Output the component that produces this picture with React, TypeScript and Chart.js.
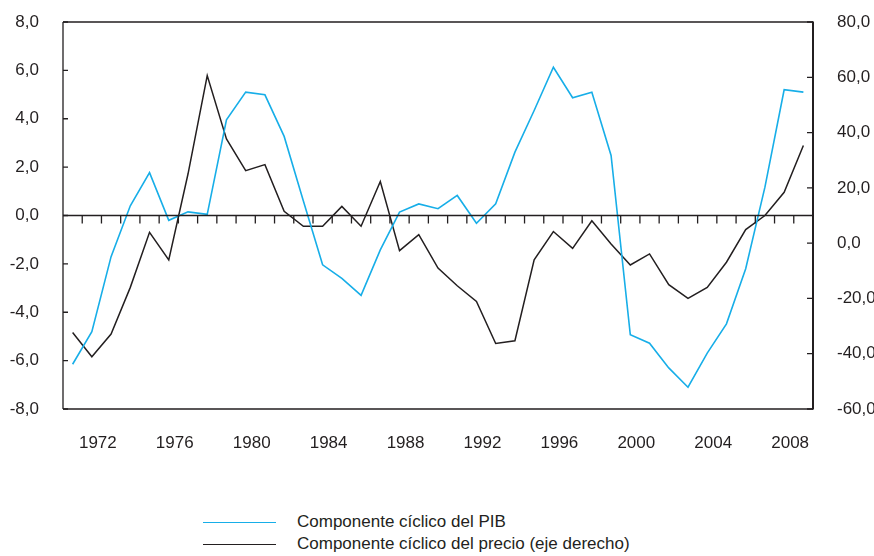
import React, { useEffect, useRef } from 'react';
import { Chart, registerables } from 'chart.js';

Chart.register(...registerables);

const years = [
  '1971', '1972', '1973', '1974', '1975', '1976', '1977', '1978', '1979', '1980',
  '1981', '1982', '1983', '1984', '1985', '1986', '1987', '1988', '1989', '1990',
  '1991', '1992', '1993', '1994', '1995', '1996', '1997', '1998', '1999', '2000',
  '2001', '2002', '2003', '2004', '2005', '2006', '2007', '2008', '2009',
];

// Componente cíclico del PIB (left axis)
const pibCycle = [
  -6.15, -4.8, -1.7, 0.4, 1.77, -0.2, 0.15, 0.05, 3.96, 5.1,
  4.99, 3.27, 0.6, -2.04, -2.6, -3.3, -1.42, 0.14, 0.48, 0.28,
  0.83, -0.32, 0.48, 2.62, 4.34, 6.13, 4.87, 5.1, 2.48, -4.93,
  -5.28, -6.3, -7.1, -5.69, -4.48, -2.2, 1.17, 5.2, 5.1,
];

// Componente cíclico del precio (right axis)
const priceCycle = [
  -32.3, -41.1, -32.9, -16.0, 3.9, -6.1, 25.0, 60.6, 37.7, 26.2,
  28.4, 11.5, 6.1, 6.1, 13.3, 6.1, 22.3, -2.7, 3.1, -9.0,
  -15.4, -21.1, -36.3, -35.3, -6.0, 4.2, -1.9, 8.1, -0.3, -7.9,
  -3.9, -15.0, -20.0, -16.0, -6.9, 4.9, 10.0, 18.4, 35.3,
];

const leftTicks = [-8, -6, -4, -2, 0, 2, 4, 6, 8];
const rightTicks = [-60, -40, -20, 0, 20, 40, 60, 80];
const xLabelYears = ['1972', '1976', '1980', '1984', '1988', '1992', '1996', '2000', '2004', '2008'];
const seriesNames = ['Componente cíclico del PIB', 'Componente cíclico del precio (eje derecho)'];

const BLUE = '#17aee8';
const DARK = '#231f20';
const FONT = "'Liberation Sans', Arial, sans-serif";
const FSIZE = 17;

const fmt = (v: number) => v.toFixed(1).replace('.', ',');

const framePlugin = {
  id: 'framePlugin',
  afterDatasetsDraw(chart: any) {
    const { ctx, chartArea } = chart;
    const { left, right, top, bottom } = chartArea;
    const x = chart.scales.x;
    const yL = chart.scales.y;
    const yR = chart.scales.y1;
    ctx.save();
    ctx.strokeStyle = DARK;
    // frame
    ctx.lineWidth = 1.3;
    ctx.beginPath();
    ctx.moveTo(left, top);
    ctx.lineTo(right, top);
    ctx.moveTo(left, bottom);
    ctx.lineTo(right, bottom);
    ctx.moveTo(left, top);
    ctx.lineTo(left, bottom);
    ctx.stroke();
    ctx.lineWidth = 2;
    ctx.beginPath();
    ctx.moveTo(right, top - 0.6);
    ctx.lineTo(right, bottom + 0.6);
    ctx.stroke();
    // inner ticks
    ctx.lineWidth = 1.3;
    ctx.beginPath();
    leftTicks.forEach((v) => {
      const py = yL.getPixelForValue(v);
      ctx.moveTo(left, py);
      ctx.lineTo(left + 5, py);
    });
    rightTicks.forEach((v) => {
      const py = yR.getPixelForValue(v);
      ctx.moveTo(right, py);
      ctx.lineTo(right - 6, py);
    });
    ctx.stroke();
    // zero line with category ticks
    const zy = yL.getPixelForValue(0);
    ctx.lineWidth = 1.3;
    ctx.beginPath();
    ctx.moveTo(left, zy);
    ctx.lineTo(right, zy);
    const step = x.getPixelForValue(1) - x.getPixelForValue(0);
    for (let i = 1; i < years.length; i++) {
      const px = x.getPixelForValue(i) - step / 2;
      ctx.moveTo(px, zy);
      ctx.lineTo(px, zy + 8);
    }
    ctx.stroke();
    ctx.restore();
  },
};

export default function App() {
  const canvasRef = useRef<HTMLCanvasElement>(null);

  useEffect(() => {
    if (!canvasRef.current) return;
    const chart = new Chart(canvasRef.current, {
      type: 'line',
      data: {
        labels: years,
        datasets: [
          {
            label: seriesNames[0],
            data: pibCycle,
            borderColor: BLUE,
            borderWidth: 1.6,
            pointRadius: 0,
            tension: 0,
            yAxisID: 'y',
          },
          {
            label: seriesNames[1],
            data: priceCycle,
            borderColor: DARK,
            borderWidth: 1.5,
            pointRadius: 0,
            tension: 0,
            yAxisID: 'y1',
          },
        ],
      },
      options: {
        animation: false,
        responsive: false,
        maintainAspectRatio: false,
        layout: { padding: { top: 22, left: 0, right: 0, bottom: 0 } },
        plugins: {
          legend: { display: false },
          tooltip: { enabled: false },
        },
        scales: {
          x: {
            type: 'category',
            offset: true,
            grid: { display: false, drawTicks: false },
            border: { display: false },
            ticks: {
              autoSkip: false,
              maxRotation: 0,
              minRotation: 0,
              padding: 24,
              labelOffset: 6,
              color: DARK,
              font: { family: FONT, size: FSIZE },
              callback: (_v: any, i: number) => (xLabelYears.includes(years[i]) ? years[i] : ''),
            },
            afterFit: (s: any) => {
              s.height = 470 - 409;
              s.paddingLeft = 0;
              s.paddingRight = 0;
            },
          },
          y: {
            position: 'left',
            min: -8,
            max: 8,
            grid: { display: false, drawTicks: false },
            border: { display: false },
            afterBuildTicks: (s: any) => {
              s.ticks = leftTicks.map((v) => ({ value: v }));
            },
            ticks: {
              padding: 24,
              color: DARK,
              font: { family: FONT, size: FSIZE },
              callback: (v: any) => fmt(Number(v)),
            },
            afterFit: (s: any) => {
              s.width = 63;
              s.paddingTop = 0;
              s.paddingBottom = 0;
            },
          },
          y1: {
            position: 'right',
            min: -60,
            max: 80,
            grid: { display: false, drawTicks: false },
            border: { display: false },
            afterBuildTicks: (s: any) => {
              s.ticks = rightTicks.map((v) => ({ value: v }));
            },
            ticks: {
              padding: 24,
              color: DARK,
              font: { family: FONT, size: FSIZE },
              callback: (v: any) => fmt(Number(v)),
            },
            afterFit: (s: any) => {
              s.width = 61;
              s.paddingTop = 0;
              s.paddingBottom = 0;
            },
          },
        },
      },
      plugins: [framePlugin],
    });
    return () => chart.destroy();
  }, []);

  const legendItem = (color: string, text: string, top: number) => (
    <div style={{ position: 'absolute', left: 203, top, height: 22, display: 'flex', alignItems: 'center' }}>
      <div style={{ width: 73, height: 0, borderTop: `1.5px solid ${color}` }} />
      <span
        style={{
          marginLeft: 21,
          fontFamily: FONT,
          fontSize: FSIZE,
          color: DARK,
          whiteSpace: 'nowrap',
          lineHeight: '22px',
        }}
      >
        {text}
      </span>
    </div>
  );

  return (
    <div style={{ position: 'fixed', left: 0, top: 0, width: 874, height: 556, background: '#fff' }}>
      <canvas ref={canvasRef} width={874} height={470} style={{ display: 'block', width: 874, height: 470 }} />
      {legendItem(BLUE, seriesNames[0], 511)}
      {legendItem(DARK, seriesNames[1], 533)}
    </div>
  );
}
